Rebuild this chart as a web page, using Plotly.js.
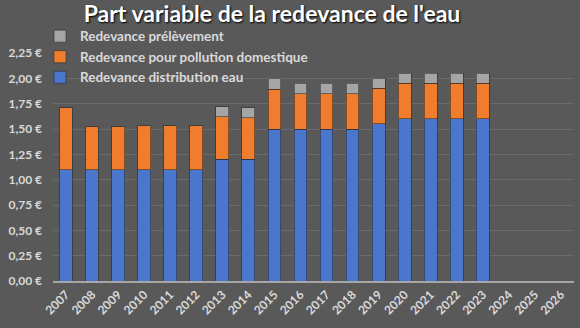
<!DOCTYPE html>
<html><head><meta charset="utf-8">
<script src="https://cdn.plot.ly/plotly-3.0.1.min.js"></script>
<style>html,body{margin:0;padding:0;background:#595959;}#c{width:580px;height:328px;}</style>
</head><body><div id="c"></div>
<script>
const years = ['2007','2008','2009','2010','2011','2012','2013','2014','2015','2016','2017','2018','2019','2020','2021','2022','2023','2024','2025','2026'];
const distribution = [1.10,1.10,1.10,1.10,1.10,1.10,1.20,1.20,1.50,1.50,1.50,1.50,1.55,1.60,1.60,1.60,1.60,null,null,null];
const pollution    = [0.61,0.42,0.42,0.43,0.43,0.43,0.42,0.41,0.39,0.35,0.35,0.35,0.35,0.35,0.35,0.35,0.35,null,null,null];
const prelevement  = [null,null,null,null,null,null,0.10,0.10,0.11,0.10,0.10,0.10,0.10,0.10,0.10,0.10,0.10,null,null,null];
const names = ['Redevance distribution eau','Redevance pour pollution domestique','Redevance prélèvement'];
const colors = ['#4a77cc','#f07d2e','#a5a5a5'];
const lineCol = 'rgba(40,40,40,0.55)';
const traces = [distribution, pollution, prelevement].map((v,i)=>({
  type:'bar', x:years, y:v, name:names[i],
  marker:{color:colors[i], line:{color:lineCol, width:1}},
  hoverinfo:'skip'
}));
const f = 'Lato, "Open Sans", sans-serif';
const layout = {
  width:580, height:328,
  paper_bgcolor:'#595959', plot_bgcolor:'#595959',
  margin:{l:53, r:6, t:53, b:47, autoexpand:false},
  barmode:'stack', bargap:0.51,
  separators:', ',
  title:{text:'<b>Part variable de la redevance de l\'eau</b>', xref:'container', yref:'container', x:0.469, xanchor:'center', y:0.958, yanchor:'middle',
    font:{family:f, size:23, color:'#ffffff', shadow:'1px 1px 2px #000'}},
  showlegend:true,
  legend:{xref:'container', x:0.069, xanchor:'left', yref:'paper', y:1.141, yanchor:'top', traceorder:'reversed',
    bgcolor:'rgba(0,0,0,0)', font:{family:f, size:13.5, color:'#d9d9d9', weight:'bold'}, tracegroupgap:0, itemwidth:30},
  xaxis:{type:'category', tickangle:-45, dtick:1, showgrid:false, showline:true, linecolor:'#a6a6a6', linewidth:2, ticks:'',
    tickfont:{family:f, size:12, color:'#d9d9d9', weight:'bold'}, fixedrange:true, automargin:false},
  yaxis:{range:[0,2.25], dtick:0.25, tickformat:'.2f', ticksuffix:' €', showgrid:true, gridcolor:'#6b6b6b', gridwidth:1,
    zeroline:false, ticks:'', ticklabelstandoff:10, automargin:false,
    tickfont:{family:f, size:12, color:'#d9d9d9', weight:'bold'}, fixedrange:true}
};
Plotly.newPlot('c', traces, layout, {displayModeBar:false, staticPlot:true});
</script></body></html>
